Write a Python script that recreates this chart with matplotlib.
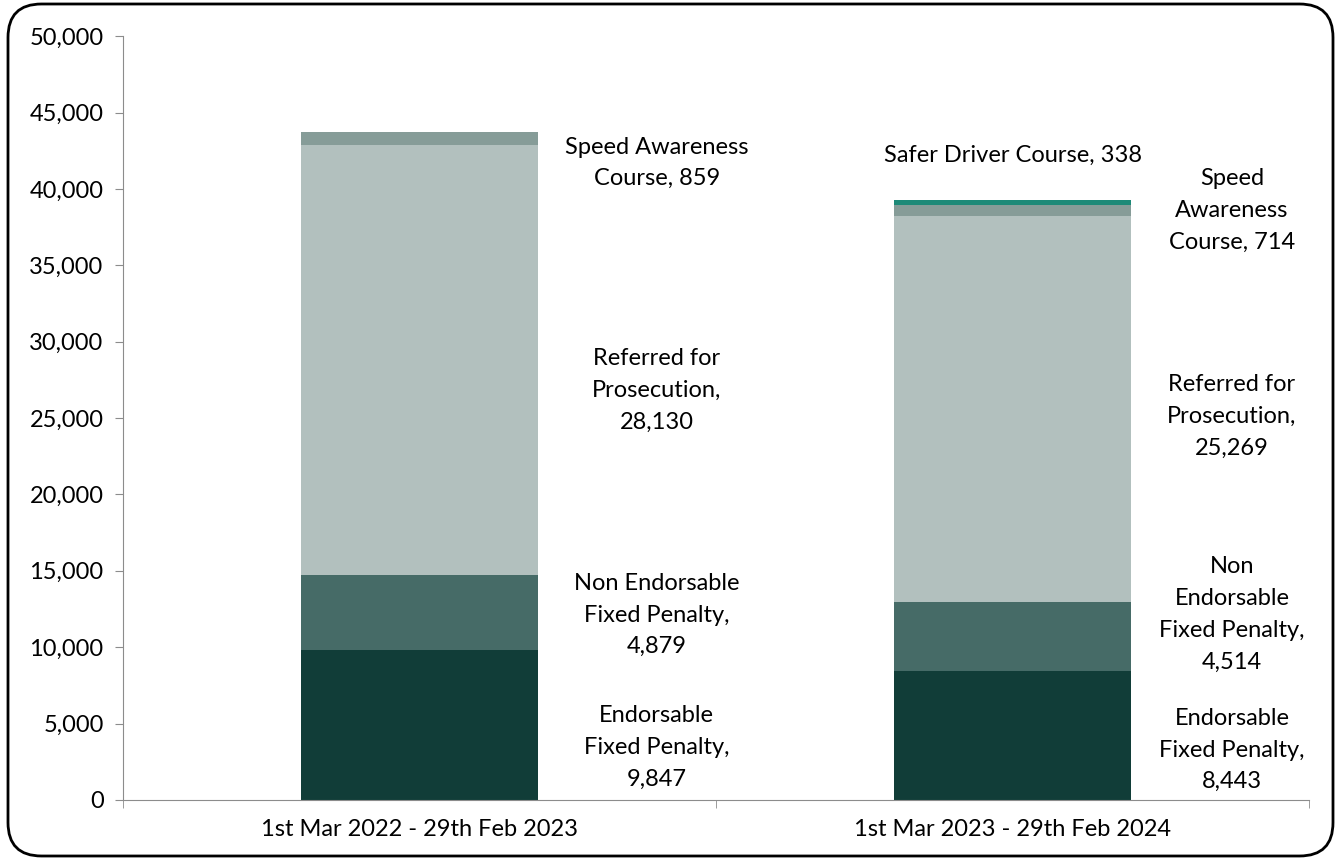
import matplotlib.pyplot as plt
from matplotlib.patches import FancyBboxPatch
from matplotlib.ticker import FuncFormatter, FixedLocator

plt.rcParams["font.family"] = ["Lato", "DejaVu Sans"]

periods = ["1st Mar 2022 - 29th Feb 2023", "1st Mar 2023 - 29th Feb 2024"]
endorsable = [9847, 8443]
non_endorsable = [4879, 4514]
prosecution = [28130, 25269]
speed_awareness = [859, 714]
safer_driver = [0, 338]

series = [
    ("Endorsable\nFixed Penalty", endorsable, "#113d38"),
    ("Non Endorsable\nFixed Penalty", non_endorsable, "#466b67"),
    ("Referred for\nProsecution", prosecution, "#b2c0be"),
    ("Speed Awareness\nCourse", speed_awareness, "#869c98"),
    ("Safer Driver Course", safer_driver, "#1d8a78"),
]

# label anchor (x, y) per series per bar, in data coordinates
label_pos = {
    "Endorsable\nFixed Penalty": [(0.40, 3450), (1.37, 3270)],
    "Non Endorsable\nFixed Penalty": [(0.40, 12100), (1.37, 12150)],
    "Referred for\nProsecution": [(0.40, 26800), (1.37, 25100)],
    "Speed Awareness\nCourse": [(0.40, 41700), (1.37, 38600)],
    "Safer Driver Course": [(None, None), (1.0, 42200)],
}
# narrower wrapping used for the second bar's labels
wrap2 = {"Non Endorsable\nFixed Penalty": "Non\nEndorsable\nFixed Penalty",
         "Speed Awareness\nCourse": "Speed\nAwareness\nCourse"}

FS = 17

fig = plt.figure(figsize=(13.39, 8.6), dpi=100)
ax = fig.add_axes([0.0919, 0.0698, 0.8857, 0.8882])

x = [0, 1]
bottom = [0, 0]
for name, vals, color in series:
    ax.bar(x, vals, width=0.4, bottom=bottom, color=color, zorder=2)
    for i, v in enumerate(vals):
        if v == 0:
            continue
        lx, ly = label_pos[name][i]
        label = name
        if i == 1 and name in wrap2:
            label = wrap2[name]
        if "Course" in name:
            text = f"{label}, {v:,}"
        else:
            text = f"{label},\n{v:,}"
        ax.text(lx, ly, text, ha="center", va="center", fontsize=FS,
                linespacing=1.63, color="#000000")
    bottom = [b + v for b, v in zip(bottom, vals)]

ax.set_xlim(-0.5, 1.5)
ax.set_ylim(0, 50000)
ax.yaxis.set_major_locator(FixedLocator(range(0, 50001, 5000)))
ax.yaxis.set_major_formatter(FuncFormatter(lambda v, p: f"{int(v):,}"))
ax.set_xticks(x)
ax.set_xticklabels(periods)
ax.set_xticks([-0.5, 0.5, 1.5], minor=True)
ax.tick_params(axis="x", which="major", length=0, pad=14, labelsize=FS)
ax.tick_params(axis="x", which="minor", length=6, color="#8c8c8c")
ax.tick_params(axis="y", length=6, color="#8c8c8c", labelsize=FS, pad=8)

for s in ["top", "right"]:
    ax.spines[s].set_visible(False)
ax.spines["left"].set_color("#8c8c8c")
ax.spines["bottom"].set_color("#8c8c8c")

border = FancyBboxPatch((8 / 1339, 4 / 860), 1325 / 1339, 852 / 860,
                        boxstyle="round,pad=0,rounding_size=0.025",
                        transform=fig.transFigure, fill=False,
                        edgecolor="black", linewidth=2, mutation_aspect=1339 / 860)
fig.patches.append(border)

fig.savefig("out.png", dpi=100)
